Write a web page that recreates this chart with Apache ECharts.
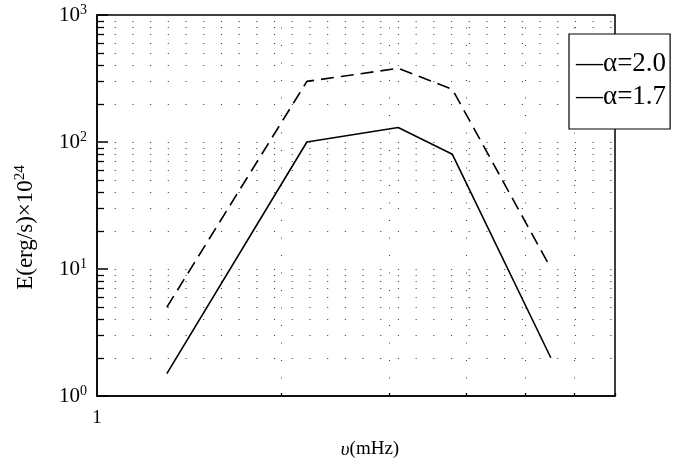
<!DOCTYPE html>
<html>
<head>
<meta charset="utf-8">
<script src="https://cdn.jsdelivr.net/npm/echarts@6/dist/echarts.min.js"></script>
<style>html,body{margin:0;padding:0;background:#fff}#c{width:675px;height:464px}</style>
</head>
<body>
<div id="c"></div>
<script>
// ---- data ----
var seriesNames = ['α=2.0', 'α=1.7'];
var freqA20 = [1.3, 2.2, 3.1, 3.8, 5.45];
var valsA20 = [5, 300, 380, 260, 11];
var freqA17 = [1.3, 2.2, 3.1, 3.8, 5.5];
var valsA17 = [1.5, 100, 130, 80, 2];
var xMajorGrid = [2, 3, 4, 5, 6];
var yMajorGrid = [10, 100];
var yMinorGrid = [2, 3, 4, 5, 6, 7, 8, 9, 20, 30, 40, 50, 60, 70, 80, 90, 200, 300, 400, 500, 600, 700, 800, 900];
var xLabels = [1];
var xRange = [1, 7];
var yRange = [1, 1000];

var FONT = '"Liberation Serif", "DejaVu Serif", serif';
var dotStyle = { color: '#444', width: 1.1, type: [1.1, 16.6] };
var vDotStyle = { color: '#444', width: 1.1, type: [1.1, 16.4] };
var minorTickX = Math.pow(10, 7 / 611);     // tick length in data terms on log axis
var xTickY = Math.pow(10, 3 / 127);

var gridLines = [];
yMinorGrid.concat(yMajorGrid).forEach(function (v) {
  gridLines.push({ yAxis: v, lineStyle: dotStyle });
});
xMajorGrid.forEach(function (v) {
  gridLines.push({ xAxis: v, lineStyle: vDotStyle });
});
yMinorGrid.forEach(function (v) {
  gridLines.push([{ coord: [xRange[0], v], lineStyle: { color: '#000', width: 1.3, type: 'solid' } }, { coord: [minorTickX, v] }]);
});
xMajorGrid.concat([xRange[1]]).forEach(function (v) {
  gridLines.push([{ coord: [v, yRange[0]], lineStyle: { color: '#000', width: 1.3, type: 'solid' } }, { coord: [v, xTickY] }]);
});

function pairs(xs, ys) { return xs.map(function (x, i) { return [x, ys[i]]; }); }

var chart = echarts.init(document.getElementById('c'), null, { renderer: 'canvas' });
chart.setOption({
  animation: false,
  backgroundColor: '#fff',
  grid: { left: 97, right: 60, top: 15, bottom: 68, show: true, borderColor: '#000', borderWidth: 1.5, backgroundColor: 'transparent' },
  legend: {
    orient: 'vertical', left: 569, top: 34,
    icon: 'none', itemWidth: 0, itemGap: 0,
    padding: [13, 4, 16, 2],
    backgroundColor: '#fff', borderColor: '#000', borderWidth: 1.2, borderRadius: 0,
    formatter: function (n) { return '—' + n; },
    textStyle: { fontFamily: FONT, fontSize: 27, color: '#000', lineHeight: 33 },
    data: seriesNames
  },
  xAxis: {
    type: 'log', logBase: 10, min: xRange[0], max: xRange[1],
    name: '{i|υ}(mHz)', nameLocation: 'middle', nameGap: 44,
    nameTextStyle: { fontFamily: FONT, fontSize: 19, color: '#000', padding: [0, 0, 0, 28],
      rich: { i: { fontFamily: FONT, fontSize: 19, fontStyle: 'italic', color: '#000' } } },
    axisLine: { show: true, lineStyle: { color: '#000', width: 1.5 } },
    axisTick: { show: false },
    splitLine: { show: false },
    axisLabel: {
      fontFamily: FONT, fontSize: 19, color: '#000', margin: 13,
      formatter: function (v) { return xLabels.indexOf(Math.round(v * 1000) / 1000) >= 0 ? String(v) : ''; }
    }
  },
  yAxis: {
    type: 'log', logBase: 10, min: yRange[0], max: yRange[1],
    name: 'E(erg/s)×10{s|24}', nameLocation: 'middle', nameGap: 58, nameRotate: 90,
    nameTextStyle: { fontFamily: FONT, fontSize: 23, color: '#000', padding: [0, 44, 0, 0],
      rich: { s: { fontFamily: FONT, fontSize: 15, color: '#000', padding: [0, 0, 11, 0] } } },
    axisLine: { show: true, lineStyle: { color: '#000', width: 1.5 } },
    axisTick: { show: true, inside: true, length: 11, lineStyle: { color: '#000', width: 1.5 } },
    splitLine: { show: false },
    axisLabel: {
      margin: 10, color: '#000',
      formatter: function (v) { return '{b|10}{s|' + Math.round(Math.log10(v)) + '}'; },
      rich: {
        b: { fontFamily: FONT, fontSize: 21, color: '#000' },
        s: { fontFamily: FONT, fontSize: 14, color: '#000', padding: [0, 0, 10, 0] }
      }
    }
  },
  series: [
    {
      name: seriesNames[0], type: 'line', data: pairs(freqA20, valsA20),
      symbol: 'none', z: 5,
      lineStyle: { color: '#000', width: 1.6, type: [13, 7] },
      itemStyle: { color: '#000' }
    },
    {
      name: seriesNames[1], type: 'line', data: pairs(freqA17, valsA17),
      symbol: 'none', z: 5,
      lineStyle: { color: '#000', width: 1.6, type: 'solid' },
      itemStyle: { color: '#000' },
      markLine: {
        silent: true, symbol: 'none', animation: false, z: 1,
        label: { show: false }, emphasis: { disabled: true },
        data: gridLines
      }
    }
  ]
});
</script>
</body>
</html>
